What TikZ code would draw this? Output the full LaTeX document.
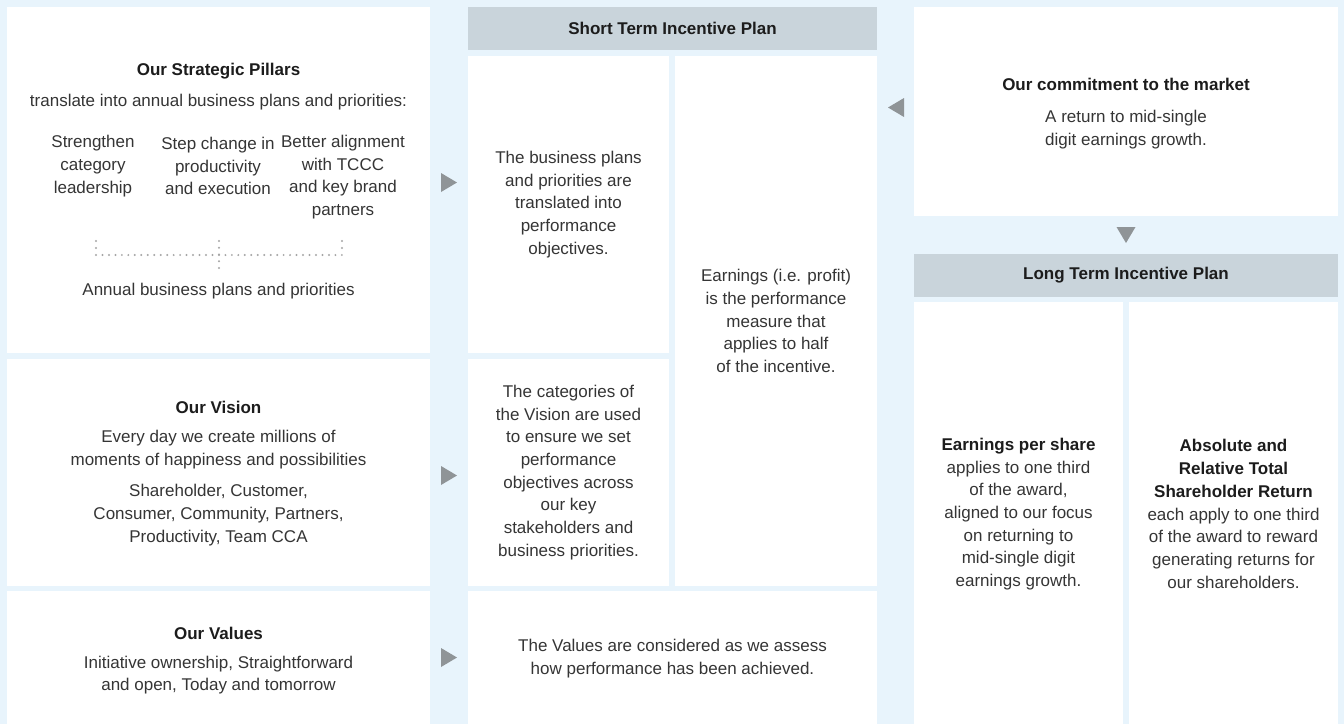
\documentclass[tikz,border=0pt]{standalone}
\usepackage{fontspec}
\setmainfont{Liberation Sans}
\usetikzlibrary{fit}
\definecolor{bgc}{HTML}{E8F4FC}
\definecolor{hdrc}{HTML}{C9D4DB}
\definecolor{tric}{HTML}{8F9497}
\definecolor{dotc}{HTML}{A5A5A5}
\definecolor{bodyc}{HTML}{353535}
\definecolor{ttlc}{HTML}{1C1C1C}
\tikzset{
  txt/.style={font=\fontsize{17}{22.7}\selectfont, text=bodyc, align=center, inner sep=0pt},
  ttl/.style={font=\fontsize{17}{22.7}\selectfont\bfseries, text=ttlc, align=center, inner sep=0pt},
  box/.style={fill=white, inner sep=0pt},
  hdr/.style={fill=hdrc, inner sep=0pt},
  tri/.style={fill=tric},
  dotline/.style={draw=dotc, line width=2.2pt, line cap=round, dash pattern=on 0pt off #1},
}
\newcommand{\B}[1]{{\bfseries\color{ttlc}#1}}
\begin{document}
\begin{tikzpicture}[x=1pt,y=-1pt]
\useasboundingbox (0,0) rectangle (1344,724);
\fill[bgc] (0,0) rectangle (1344,724);

% ---------- left column ----------
\node[box, fit={(7,7)(430,353)}] (pill) {};
\node[box, fit={(7,359)(430,586)}] (vis) {};
\node[box, fit={(7,591)(430,724)}] (val) {};

\node[ttl] (pillT) at (218.5,71) {Our Strategic Pillars};
\node[txt] (pillS) at (218.5,102) {translate into annual business plans and priorities:};
\node[txt] (p1) at (93,166) {Strengthen\\category\\leadership};
\node[txt] (p2) at (218,166) {Step change in\\productivity\\and execution};
\node[txt] (p3) at (343,177) {Better alignment\\with TCCC\\and key brand\\partners};
\coordinate (dL1) at (96,241);  \coordinate (dL2) at (96,255);
\coordinate (dM1) at (219,241); \coordinate (dM2) at (219,268);
\coordinate (dR1) at (342,241); \coordinate (dR2) at (342,255);
\draw[dotline=6.47pt] (dL2) -- (dR2);
\draw[dotline=7pt] (dL1) -- (dL2);
\draw[dotline=7pt] (dR1) -- (dR2);
\draw[dotline=6.75pt] (dM1) -- (dM2);
\node[txt] (annual) at (218.5,291) {Annual business plans and priorities};

\node[ttl] (visT) at (218.5,407) {Our Vision};
\node[txt] (visA) at (218.5,449.5) {Every day we create millions of\\moments of happiness and possibilities};
\node[txt] (visB) at (218.5,515) {Shareholder, Customer,\\Consumer, Community, Partners,\\Productivity, Team CCA};

\node[ttl] (valT) at (218.5,633) {Our Values};
\node[txt] (valA) at (218.5,675) {Initiative ownership, Straightforward\\and open, Today and tomorrow};

% ---------- middle column ----------
\node[hdr, fit={(468,7)(877,50)}] (stiH) {};
\node[ttl] at (stiH.center) {Short Term Incentive Plan};
\node[box, fit={(468,56)(669,353)}] (m1) {};
\node[box, fit={(468,359)(669,586)}] (m2) {};
\node[box, fit={(675,56)(877,586)}] (m3) {};
\node[box, fit={(468,591)(877,724)}] (m4) {};
\node[txt] (m1t) at (m1.center) {The business plans\\and priorities are\\translated into\\performance\\objectives.};
\node[txt] (m2t) at (m2.center) {The categories of\\the Vision are used\\to ensure we set\\performance\\objectives across\\our key\\stakeholders and\\business priorities.};
\node[txt] (m3t) at (m3.center) {Earnings (i.e. profit)\\is the performance\\measure that\\applies to half\\of the incentive.};
\node[txt] (m4t) at (672.5,658.5) {The Values are considered as we assess\\how performance has been achieved.};

% ---------- right column ----------
\node[box, fit={(914,7)(1338,216)}] (mkt) {};
\node[ttl] (mktT) at (1126,84) {Our commitment to the market};
\node[txt] (mktA) at (1126,129.5) {A return to mid-single\\digit earnings growth.};
\node[hdr, fit={(914,254)(1338,297)}] (ltiH) {};
\node[ttl] at (ltiH.center) {Long Term Incentive Plan};
\node[box, fit={(914,302)(1123,724)}] (r1) {};
\node[box, fit={(1129,302)(1338,724)}] (r2) {};
\node[txt] (r1t) at (1018.5,514) {\B{Earnings per share}\\applies to one third\\of the award,\\aligned to our focus\\on returning to\\mid-single digit\\earnings growth.};
\node[txt] (r2t) at (1233.5,514) {\B{Absolute and}\\\B{Relative Total}\\\B{Shareholder Return}\\each apply to one third\\of the award to reward\\generating returns for\\our shareholders.};

% ---------- triangles ----------
\fill[tri] (441,173) -- (457,182.5) -- (441,192) -- cycle;
\fill[tri] (441,466) -- (457,475.5) -- (441,485) -- cycle;
\fill[tri] (441,648) -- (457,657.5) -- (441,667) -- cycle;
\fill[tri] (904,98) -- (888,107.5) -- (904,117) -- cycle;
\fill[tri] (1116.5,227) -- (1135.5,227) -- (1126,243) -- cycle;
\end{tikzpicture}
\end{document}
